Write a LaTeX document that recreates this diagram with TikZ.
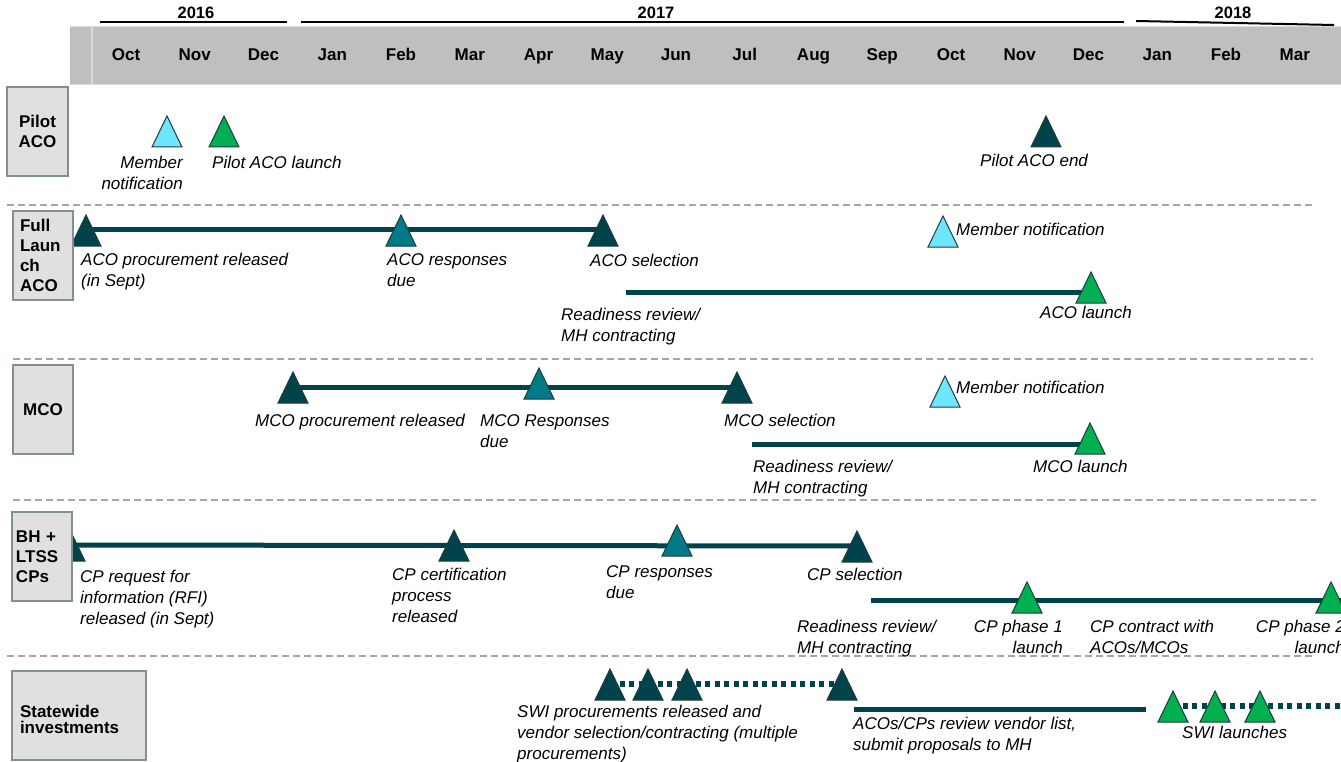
\documentclass[tikz,border=0pt]{standalone}
\usepackage{fontspec}
\setmainfont{Liberation Sans}
\definecolor{darkteal}{HTML}{00434A}
\definecolor{midteal}{HTML}{007A87}
\definecolor{skycyan}{HTML}{6FE6FF}
\definecolor{launchgreen}{HTML}{00B050}
\definecolor{bandgray}{HTML}{BFBFBF}
\definecolor{bandline}{HTML}{DADADA}
\definecolor{boxgray}{HTML}{E0E0E0}
\definecolor{boxedge}{HTML}{7F9191}
\definecolor{sepgray}{HTML}{A6A6A6}
\definecolor{triedge}{HTML}{1E3B3E}
\pgfdeclarelayer{background}
\pgfsetlayers{background,main}
% milestone triangle: name, x, base y, fill; the name marks the track height
\newcommand\mstone[4]{%
  \draw[tri,fill=#4] (#2-15,#3) -- (#2,#3-31) -- (#2+15,#3) -- cycle;
  \coordinate (#1) at (#2,#3-16);}
\begin{document}
\begin{tikzpicture}[x=1pt,y=-1pt,
  month/.style={font=\fontsize{17}{20}\selectfont\bfseries,inner sep=0,anchor=base},
  year/.style={font=\fontsize{16.5}{20}\selectfont\bfseries,inner sep=0,anchor=base},
  rowbox/.style={draw=boxedge,fill=boxgray,line width=1.5pt,inner sep=0,
    font=\fontsize{17}{20}\selectfont\bfseries},
  lbl/.style={font=\fontsize{17}{21}\selectfont\itshape,inner sep=0,anchor=north west,align=left},
  lblr/.style={lbl,anchor=north east,align=right},
  track/.style={draw=darkteal,line width=5pt},
  dottrack/.style={draw=darkteal,line width=6pt,dash pattern=on 5pt off 4.5pt},
  sep/.style={draw=sepgray,line width=1.5pt,dash pattern=on 7pt off 4pt},
  yearline/.style={draw=black,line width=2.5pt},
  tri/.style={draw=triedge,line width=1pt,line join=miter}]
\useasboundingbox (0,0) rectangle (1341,762);

% ---- year rules and labels
\draw[yearline] (100,22) -- (287,22);
\draw[yearline] (301,22) -- (1124,22);
\draw[draw=black,line width=2pt] (1136,21) -- (1334,25);
\node[year] (y16) at (196,19) {2016};
\node[year] (y17) at (656,19) {2017};
\node[year] (y18) at (1233,19) {2018};

% ---- month band
\fill[bandgray] (70,27) rectangle (1341,85);
\draw[bandline,line width=1pt] (70,27) -- (1341,27) (70,85) -- (1341,85);
\draw[bandline,line width=2pt] (92,27) -- (92,85);
\foreach \m [count=\i from 0] in {Oct,Nov,Dec,Jan,Feb,Mar,Apr,May,Jun,Jul,Aug,Sep,Oct,Nov,Dec,Jan,Feb,Mar}
  \node[month] (m\i) at ({126+68.75*\i},61) {\m};

% ---- section separators
\draw[sep] (7,205) -- (1313,205);
\draw[sep] (13,359) -- (1313,359);
\draw[sep] (13,500) -- (1316,500);
\draw[sep] (7,656) -- (1313,656);

% ---- Pilot ACO
\mstone{pMem}{167}{147}{skycyan}
\mstone{pLaunch}{224}{147}{launchgreen}
\mstone{pEnd}{1046}{147}{darkteal}
\node[lblr] (tpMem) at (183,156) {Member\\notification};
\node[lbl] (tpLaunch) at (212,156) {Pilot ACO launch};
\node[lbl] (tpEnd) at (980,154) {Pilot ACO end};

% ---- Full launch ACO
\mstone{fRel}{86}{246}{darkteal}
\mstone{fResp}{401}{246}{midteal}
\mstone{fSel}{603}{246}{darkteal}
\mstone{fMem}{943}{247}{skycyan}
\mstone{fLaunch}{1091}{303}{launchgreen}
\coordinate (fReady) at (626,292);
\node[lbl] (tfRel) at (81,253) {ACO procurement released\\(in Sept)};
\node[lbl] (tfResp) at (387,253) {ACO responses\\due};
\node[lbl] (tfSel) at (590,254) {ACO selection};
\node[lbl] (tfMem) at (956,223) {Member notification};
\node[lbl] (tfReady) at (561,308) {Readiness review/\\MH contracting};
\node[lbl] (tfLaunch) at (1040,306) {ACO launch};

% ---- MCO
\mstone{mRel}{293}{403}{darkteal}
\mstone{mResp}{539}{399}{midteal}
\mstone{mSel}{737}{403}{darkteal}
\mstone{mMem}{945}{407}{skycyan}
\mstone{mLaunch}{1090}{454}{launchgreen}
\coordinate (mReady) at (752,444);
\node[lbl] (tmRel) at (255,414) {MCO procurement released};
\node[lbl] (tmResp) at (480,414) {MCO Responses\\due};
\node[lbl] (tmSel) at (724,414) {MCO selection};
\node[lbl] (tmMem) at (956,381) {Member notification};
\node[lbl] (tmReady) at (753,460) {Readiness review/\\MH contracting};
\node[lbl] (tmLaunch) at (1033,460) {MCO launch};

% ---- BH + LTSS CPs
\mstone{cRfi}{70}{561}{darkteal}
\mstone{cCert}{454}{561}{darkteal}
\mstone{cResp}{677}{556}{midteal}
\mstone{cSel}{857}{562}{darkteal}
\mstone{cPh1}{1027}{613}{launchgreen}
\mstone{cPh2}{1331}{613}{launchgreen}
\coordinate (cReady) at (871,600);
\coordinate (cEnd) at (1341,600);
\node[lbl] (tcRfi) at (80,570) {CP request for\\information (RFI)\\released (in Sept)};
\node[lbl] (tcCert) at (392,568) {CP certification\\process\\released};
\node[lbl] (tcResp) at (606,565) {CP responses\\due};
\node[lbl] (tcSel) at (807,568) {CP selection};
\node[lbl] (tcReady) at (797,620) {Readiness review/\\MH contracting};
\node[lblr] (tcPh1) at (1063,620) {CP phase 1\\launch};
\node[lbl] (tcContract) at (1090,620) {CP contract with\\ACOs/MCOs};
\node[lblr] (tcPh2) at (1345,620) {CP phase 2\\launch};

% ---- Statewide investments
\mstone{sA}{610}{700}{darkteal}
\mstone{sB}{648}{700}{darkteal}
\mstone{sC}{687}{700}{darkteal}
\mstone{sD}{842}{700}{darkteal}
\mstone{sL1}{1173}{722}{launchgreen}
\mstone{sL2}{1215}{722}{launchgreen}
\mstone{sL3}{1260}{722}{launchgreen}
\coordinate (sRevA) at (854,709);
\coordinate (sRevB) at (1146,709);
\coordinate (sEnd) at (1341,706);
\node[lbl] (tsProc) at (517,705) {SWI procurements released and\\vendor selection/contracting (multiple\\procurements)};
\node[lbl] (tsRev) at (853,717) {ACOs/CPs review vendor list,\\submit proposals to MH};
\node[lbl] (tsLaunch) at (1182,726) {SWI launches};

% ---- tracks beneath the milestones
\begin{pgfonlayer}{background}
  \draw[track] (fRel) -- (fSel);
  \draw[track] (fReady) -- (fReady -| fLaunch);
  \draw[track] (mRel) -- (mSel);
  \draw[track] (mReady) -- (mReady -| mLaunch);
  \draw[track] (cRfi) -- (cSel);
  \draw[track] (cReady) -- (cEnd);
  \draw[dottrack] (sA) -- (sD);
  \draw[track] (sRevA) -- (sRevB);
  \draw[dottrack] (sL1) -- (sEnd);
\end{pgfonlayer}

% ---- row headings
\node[rowbox,minimum width=61,minimum height=89,align=center] (rPilot) at (37.5,131.5) {Pilot\\ACO};
\node[rowbox,minimum width=60,minimum height=89,text width=46,align=left] (rFull) at (43,255.5) {Full\\Laun\\ch\\ACO};
\node[rowbox,minimum width=60,minimum height=89,align=center] (rMco) at (43,409.5) {MCO};
\node[rowbox,minimum width=60,minimum height=89,text width=52,align=left] (rCp) at (42,556.5) {BH +\\LTSS\\CPs};
\node[rowbox,minimum width=134,minimum height=89,text width=118,align=left,text height=21,
  font=\fontsize{17}{16}\selectfont\bfseries] (rSwi) at (79,715.5) {Statewide\\investments};
\end{tikzpicture}
\end{document}
